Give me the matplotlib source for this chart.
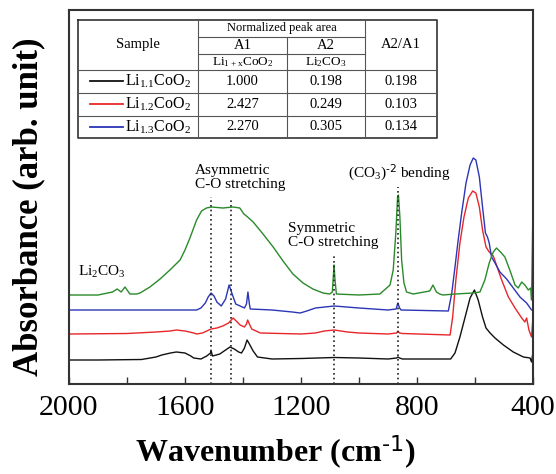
import matplotlib
matplotlib.use('Agg')
import matplotlib.pyplot as plt

plt.rcParams['font.family'] = ['Liberation Serif', 'DejaVu Serif']
plt.rcParams['mathtext.default'] = 'regular'

# ---- spectra (wavenumber cm-1, absorbance a.u., offset stacked) ----
black_w = [2000, 1900, 1750, 1700, 1680, 1650, 1630, 1600, 1580, 1570, 1545, 1525, 1512, 1510, 1505,
           1480, 1460, 1445, 1430, 1415, 1405, 1395, 1386, 1378, 1365, 1350, 1300, 1200, 1085, 1000,
           900, 870, 866, 860, 850, 684, 669, 652, 634, 617, 602, 589, 574, 562, 548, 531, 502,
           468, 433, 410, 405, 400]
black_a = [0.24, 0.24, 0.245, 0.27, 0.29, 0.31, 0.32, 0.31, 0.28, 0.26, 0.25, 0.28, 0.31, 0.33, 0.28,
           0.30, 0.34, 0.37, 0.35, 0.32, 0.31, 0.36, 0.44, 0.40, 0.33, 0.27, 0.25, 0.255, 0.265, 0.26,
           0.25, 0.26, 0.27, 0.26, 0.25, 0.25, 0.31, 0.47, 0.67, 0.86, 0.94, 0.84, 0.67, 0.56, 0.51, 0.46, 0.39,
           0.32, 0.27, 0.26, 0.22, 0.32]

red_w = [2000, 1800, 1700, 1650, 1630, 1600, 1570, 1560, 1540, 1510, 1490, 1470, 1450, 1434,
         1420, 1410, 1395, 1388, 1384, 1378, 1370, 1340, 1200, 1150, 1120, 1085, 1040, 1000,
         900, 870, 866, 860, 850, 686, 677, 666, 652, 638, 623, 608, 597, 585, 574, 562, 551,
         537, 526, 508, 485, 462, 439, 428, 422, 414, 405, 400]
red_a = [0.50, 0.505, 0.52, 0.53, 0.54, 0.53, 0.51, 0.50, 0.51, 0.55, 0.56, 0.58, 0.61, 0.66,
         0.62, 0.59, 0.57, 0.60, 0.64, 0.60, 0.55, 0.51, 0.50, 0.51, 0.53, 0.54, 0.52, 0.51,
         0.50, 0.51, 0.53, 0.51, 0.505, 0.49, 0.67, 1.04, 1.41, 1.67, 1.86, 1.93, 1.91, 1.77, 1.54, 1.37, 1.32,
         1.28, 1.19, 1.04, 0.87, 0.76, 0.66, 0.62, 0.66, 0.54, 0.47, 0.67]

blue_w = [2000, 1700, 1560, 1545, 1530, 1520, 1510, 1500, 1490, 1475, 1460, 1448, 1435, 1425,
          1395, 1388, 1383, 1378, 1375, 1300, 1230, 1203, 1180, 1150, 1085, 1000, 900, 872,
          866, 860, 855, 692, 680, 669, 658, 646, 631, 617, 606, 597, 585, 574, 564, 557, 551,
          543, 531, 514, 491, 468, 445, 422, 405, 400]
blue_a = [0.74, 0.74, 0.74, 0.76, 0.81, 0.87, 0.91, 0.88, 0.82, 0.78, 0.85, 0.99, 0.88, 0.80,
          0.76, 0.80, 0.92, 0.80, 0.75, 0.74, 0.72, 0.71, 0.73, 0.76, 0.78, 0.76, 0.74, 0.75,
          0.81, 0.76, 0.74, 0.73, 0.91, 1.17, 1.44, 1.71, 2.01, 2.19, 2.26, 2.24, 2.07, 1.77, 1.51, 1.47, 1.41,
          1.27, 1.21, 1.12, 1.05, 0.96, 0.87, 0.81, 0.74, 0.74]

green_w = [2000, 1900, 1850, 1834, 1820, 1807, 1790, 1767, 1755, 1721, 1686, 1652, 1617, 1600,
           1583, 1560, 1543, 1526, 1509, 1469, 1434, 1411, 1397, 1388, 1365, 1331, 1296, 1262,
           1228, 1193, 1159, 1124, 1101, 1092, 1088, 1086, 1083, 1078, 1000, 928, 893, 882, 873,
           867, 864, 859, 853, 845, 836, 813, 756, 745, 733, 722, 710, 669, 606, 583, 566, 551,
           537, 526, 512, 497, 480, 462, 451, 439, 428, 416, 408, 405, 400]
green_a = [0.89, 0.89, 0.92, 0.95, 0.92, 0.97, 0.90, 0.90, 0.91, 0.97, 1.05, 1.14, 1.24, 1.34,
           1.46, 1.64, 1.73, 1.76, 1.77, 1.76, 1.77, 1.76, 1.70, 1.68, 1.62, 1.50, 1.37, 1.23,
           1.10, 1.01, 0.95, 0.91, 0.90, 0.92, 1.10, 1.19, 1.05, 0.90, 0.89, 0.90, 0.99, 1.14, 1.51,
           1.87, 1.89, 1.67, 1.24, 1.01, 0.92, 0.90, 0.93, 0.99, 0.92, 0.90, 0.89, 0.90, 0.91, 0.92, 1.04, 1.21,
           1.32, 1.36, 1.32, 1.27, 1.14, 0.99, 0.96, 1.02, 0.99, 0.94, 0.96, 0.84, 1.79]

# band positions (cm-1) and top of the guide lines
band_w = [1510, 1441, 1086, 866]
band_top = [1.87, 1.84, 1.28, 1.97]

# table content
samples = [r'Li$_{1.1}$CoO$_2$', r'Li$_{1.2}$CoO$_2$', r'Li$_{1.3}$CoO$_2$']
sample_colors = ['#111111', '#e8262a', '#2b35b5']
a1 = ['1.000', '2.427', '2.270']
a2 = ['0.198', '0.249', '0.305']
ratio = ['0.198', '0.103', '0.134']

W, H = 556, 474
fig = plt.figure(figsize=(W / 100, H / 100), dpi=100)
ax = fig.add_axes([69 / W, 1 - 384 / H, 464 / W, 374 / H])

lw = 1.0
ax.plot(black_w, black_a, color='#111111', lw=lw)
ax.plot(red_w, red_a, color='#e8262a', lw=lw)
ax.plot(blue_w, blue_a, color='#2b35b5', lw=lw)
ax.plot(green_w, green_a, color='#2a8a2a', lw=lw)

for w, top in zip(band_w, band_top):
    ax.plot([w, w], [0, top], color='#222222', ls=(0, (1, 1.8)), lw=1.2)

ax.text(1969, 1.12, r'Li$_2$CO$_3$', fontsize=11, ha='left', va='center')
ax.text(1566, 2.065, 'Asymmetric\nC-O stretching', fontsize=11, ha='left', va='center',
        linespacing=1.15)
ax.text(1245, 1.485, 'Symmetric\nC-O stretching', fontsize=11, ha='left', va='center',
        linespacing=1.15)
ax.text(1038, 2.12, r'(CO$_3$)$^{\text{-2}}$ bending', fontsize=11, ha='left', va='center')

ax.set_xlim(2000, 400)
ax.set_ylim(0, 3.74)
ax.set_xticks([2000, 1600, 1200, 800, 400])
ax.set_xticks([1800, 1400, 1000, 600], minor=True)
ax.set_yticks([])
ax.tick_params(axis='x', which='both', direction='in', length=5, width=1.0,
               labelsize=21.5, pad=8, color='#333333')
for sp in ax.spines.values():
    sp.set_linewidth(1.5)
    sp.set_color('#333333')
ax.set_xlabel(r'Wavenumber (cm$^{\text{-1}}$)', fontsize=23, fontweight='bold')
ax.xaxis.set_label_coords((275 - 69) / 464, (384 - 452) / 374)
ax.xaxis.label.set_va('center')
ax.set_ylabel('Absorbance (arb. unit)', fontsize=25, fontweight='bold')
ax.yaxis.set_label_coords((28.5 - 69) / 464, (384 - 207) / 374)
ax.yaxis.label.set_va('center')

# ---- table inset (pixel coordinates) ----
tx0, tx1, ty0, ty1 = 78, 437, 20, 138
tax = fig.add_axes([tx0 / W, 1 - ty1 / H, (tx1 - tx0) / W, (ty1 - ty0) / H])
tax.set_xlim(tx0, tx1)
tax.set_ylim(ty1, ty0)
tax.axis('off')

cols = [78, 198, 287, 365, 437]
rows = [20, 37, 54, 70, 93, 116, 138]
gc = '#555555'
tax.plot([tx0, tx1, tx1, tx0, tx0], [ty0, ty0, ty1, ty1, ty0], color='#333333', lw=1.2, clip_on=False)
for y in rows[3:6]:
    tax.plot([tx0, tx1], [y, y], color=gc, lw=0.8)
tax.plot([cols[1], cols[3]], [rows[1], rows[1]], color=gc, lw=0.8)
tax.plot([cols[1], cols[3]], [rows[2], rows[2]], color=gc, lw=0.8)
for x in cols[1:4]:
    tax.plot([x, x], [ty0 if x != cols[2] else rows[1], ty1], color=gc, lw=0.8)

tax.text((cols[0] + cols[1]) / 2, (rows[0] + rows[3]) / 2, 'Sample', fontsize=10.5,
         ha='center', va='center')
tax.text((cols[1] + cols[3]) / 2, (rows[0] + rows[1]) / 2, 'Normalized peak area', fontsize=9,
         ha='center', va='center')
tax.text((cols[1] + cols[2]) / 2, (rows[1] + rows[2]) / 2, 'A1', fontsize=10.5, ha='center', va='center')
tax.text((cols[2] + cols[3]) / 2, (rows[1] + rows[2]) / 2, 'A2', fontsize=10.5, ha='center', va='center')
tax.text((cols[1] + cols[2]) / 2, (rows[2] + rows[3]) / 2, r'Li$_{1+x}$CoO$_2$', fontsize=9.5,
         ha='center', va='center')
tax.text((cols[2] + cols[3]) / 2, (rows[2] + rows[3]) / 2, r'Li$_2$CO$_3$', fontsize=9.5,
         ha='center', va='center')
tax.text((cols[3] + cols[4]) / 2, (rows[0] + rows[3]) / 2, 'A2/A1', fontsize=10.5,
         ha='center', va='center')

for i in range(3):
    yc = (rows[3 + i] + rows[4 + i]) / 2
    tax.plot([90, 123], [yc, yc], color=sample_colors[i], lw=1.3)
    tax.text(125, yc, samples[i], fontsize=11.5, ha='left', va='center')
    tax.text((cols[1] + cols[2]) / 2, yc, a1[i], fontsize=10.5, ha='center', va='center')
    tax.text((cols[2] + cols[3]) / 2, yc, a2[i], fontsize=10.5, ha='center', va='center')
    tax.text((cols[3] + cols[4]) / 2, yc, ratio[i], fontsize=10.5, ha='center', va='center')

fig.savefig('out.png', dpi=100)
